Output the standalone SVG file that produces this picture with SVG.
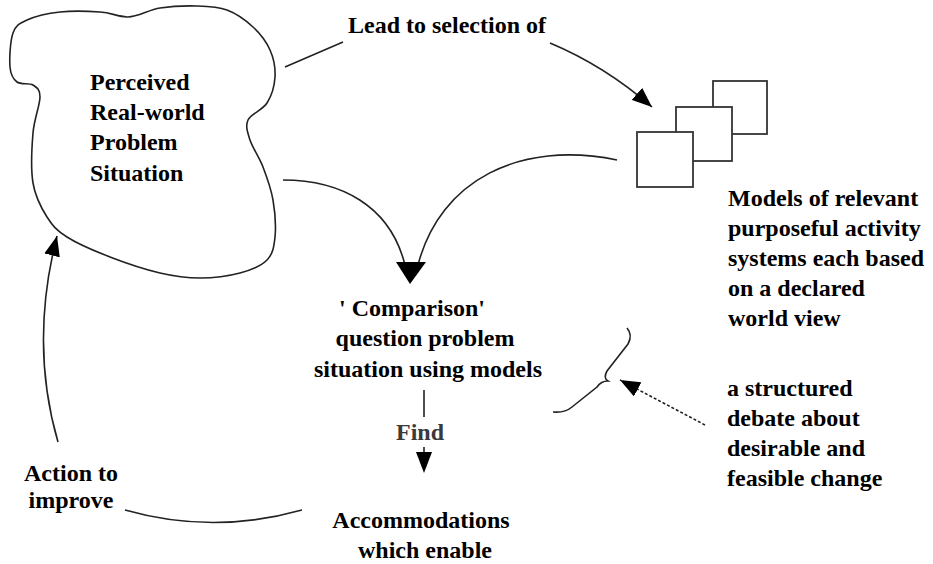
<svg xmlns="http://www.w3.org/2000/svg" width="933" height="564" viewBox="0 0 933 564">
<style>
.t{font-family:"Liberation Serif","Times New Roman",serif;font-weight:bold;font-size:24px;fill:#000}
.m{text-anchor:middle}
.ln{fill:none;stroke:#222;stroke-width:1.6}
.bx{fill:#fff;stroke:#333;stroke-width:1.8}
.ah{fill:#000;stroke:none}
</style>
<defs>
<marker id="arr" markerUnits="userSpaceOnUse" markerWidth="22" markerHeight="16" refX="20" refY="8" orient="auto"><path d="M0,0 L20,8 L0,16 z" fill="#000"/></marker>
</defs>
<rect width="933" height="564" fill="#fff"/>
<g id="problem-situation">
<path class="ln" d="M13,33 C10.2,40.8 9.3,58.8 10,67 C10.7,75.2 13.2,79 17,82 C20.8,85 29.2,82.5 33,85 C36.8,87.5 40,89 40,97 C40,105 34.2,118.7 33,133 C31.8,147.3 30.7,169 33,183 C35.3,197 41.3,208 47,217 C52.7,226 56.5,230.3 67,237 C77.5,243.7 94.5,251 110,257 C125.5,263 145,269.5 160,273 C175,276.5 186.7,278 200,278 C213.3,278 228.8,276 240,273 C251.2,270 261.2,266 267,260 C272.8,254 274,247 275,237 C276,227 275,211.7 273,200 C271,188.3 266.8,177 263,167 C259.2,157 252.5,147.8 250,140 C247.5,132.2 245.2,126.2 248,120 C250.8,113.8 262.5,110.2 267,103 C271.5,95.8 274.5,85.8 275,77 C275.5,68.2 273.7,58.3 270,50 C266.3,41.7 260.2,33.7 253,27 C245.8,20.3 236.3,13.5 227,10 C217.7,6.5 208.2,6.3 197,6 C185.8,5.7 171.7,6.2 160,8 C148.3,9.8 137,17.7 127,17 C117,16.3 111.2,12.8 100,12 C88.8,11.2 72.2,10.7 60,12 C47.8,13.3 34.8,16.5 27,20 C19.2,23.5 15.8,25.2 13,33 Z"/>
<text class="t" x="90" y="90">Perceived</text>
<text class="t" x="90" y="120">Real-world</text>
<text class="t" x="90" y="150">Problem</text>
<text class="t" x="90" y="181">Situation</text>
</g>
<g id="models">
<rect class="bx" x="713" y="81" width="54" height="53"/>
<rect class="bx" x="676" y="107" width="56" height="54"/>
<rect class="bx" x="637" y="132" width="56" height="55"/>
</g>
<g id="models-label">
<text class="t" x="728" y="206">Models of relevant</text>
<text class="t" x="728" y="236">purposeful activity</text>
<text class="t" x="728" y="266">systems each based</text>
<text class="t" x="728" y="296">on a declared</text>
<text class="t" x="728" y="326">world view</text>
</g>
<g id="lead-label">
<text class="t" x="348" y="33">Lead to selection of</text>
</g>
<g id="comparison">
<text class="t m" x="412" y="316">' Comparison'</text>
<text class="t m" x="425" y="346">question problem</text>
<text class="t m" x="428" y="377">situation using models</text>
</g>
<g id="find-label">
<text class="t m" x="420" y="440" style="fill:#3a3a3a">Find</text>
</g>
<g id="accommodations">
<text class="t m" x="421" y="528">Accommodations</text>
<text class="t m" x="425" y="558">which enable</text>
</g>
<g id="action">
<text class="t m" x="71" y="481">Action to</text>
<text class="t m" x="71" y="508">improve</text>
</g>
<g id="debate">
<path class="ln" d="M627,328 Q633,335 628,344 L607,371 Q603,378 608,381 Q601,381 597,387 L572,407 Q565,413 553,412"/>
<text class="t" x="727" y="396">a structured</text>
<text class="t" x="727" y="426">debate about</text>
<text class="t" x="727" y="456">desirable and</text>
<text class="t" x="727" y="486">feasible change</text>
</g>
<g id="connectors">
<path class="ln" d="M285,67 L343,42"/>
<path class="ln" d="M550,43 Q605,66 652,107" marker-end="url(#arr)"/>
<path class="ln" d="M283,180 C340,180 390,205 405,265"/>
<path class="ln" d="M617,160 C520,140 440,180 418,265"/>
<polygon class="ah" points="396,262 426,262 410,284"/>
<path class="ln" d="M424,390 L424,417"/>
<path class="ln" d="M424,447 L424,455"/>
<polygon class="ah" points="416,452 432,452 424,473"/>
<path class="ln" d="M302,510 Q213,535 125,510"/>
<path class="ln" d="M58,442 C40,380 38,310 57,236" marker-end="url(#arr)"/>
<path class="ln" d="M705,425 L620,380" stroke-width="2" stroke-dasharray="3,2" marker-end="url(#arr)"/>
</g>
</svg>
